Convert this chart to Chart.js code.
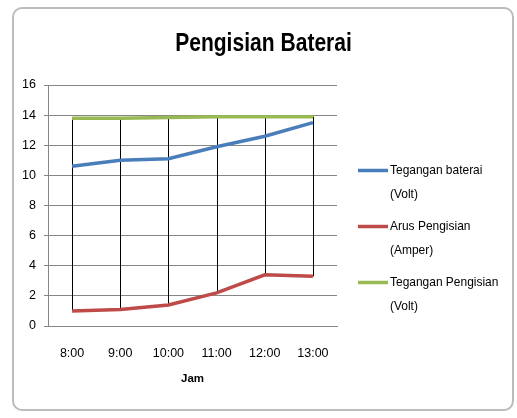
<!DOCTYPE html>
<html>
<head>
<meta charset="utf-8">
<script src="https://cdn.jsdelivr.net/npm/chart.js@4"></script>
<style>
  html, body { margin: 0; padding: 0; background: #fff; }
  #wrap { position: relative; width: 517px; height: 418px; overflow: hidden; }
  #frame {
    position: absolute; left: 12px; top: 7px; width: 498px; height: 400px;
    border: 2px solid #bcbcbc; border-radius: 10px; background: #fff;
  }
  #grafik { position: absolute; left: 0; top: 0; }
</style>
</head>
<body>
<div id="wrap">
  <div id="frame"></div>
  <canvas id="grafik" width="517" height="418"></canvas>
</div>
<script>
// === Data ===
const judul = "Pengisian Baterai";
const jam = ["8:00", "9:00", "10:00", "11:00", "12:00", "13:00"];
const teganganBaterai = [10.6, 11.0, 11.1, 11.9, 12.6, 13.5];
const arusPengisian = [1.0, 1.1, 1.4, 2.2, 3.4, 3.3];
const teganganPengisian = [13.8, 13.8, 13.85, 13.9, 13.9, 13.9];
const labelSeri = [
  ["Tegangan baterai", "(Volt)"],
  ["Arus Pengisian", "(Amper)"],
  ["Tegangan Pengisian", "(Volt)"],
];
const warna = ["#4a7ebb", "#be4b48", "#98b954"];

const fontBiasa = "'Liberation Sans', Arial, sans-serif";

// === Garis high-low (hitam, dari nilai tertinggi ke terendah) ===
const garisHighLow = {
  id: "garisHighLow",
  beforeDatasetsDraw(chart) {
    const { ctx, scales: { x, y } } = chart;
    ctx.save();
    ctx.strokeStyle = "#000";
    ctx.lineWidth = 1;
    jam.forEach((_, i) => {
      const nilai = chart.data.datasets.map(d => d.data[i]);
      const px = Math.round(x.getPixelForValue(i)) + 0.5;
      ctx.beginPath();
      ctx.moveTo(px, y.getPixelForValue(Math.max(...nilai)));
      ctx.lineTo(px, y.getPixelForValue(Math.min(...nilai)));
      ctx.stroke();
    });
    ctx.restore();
  },
};

// === Judul + legenda digambar manual ===
const judulDanLegenda = {
  id: "judulDanLegenda",
  afterDraw(chart) {
    const { ctx, chartArea } = chart;
    ctx.save();
    ctx.fillStyle = "#000";
    ctx.textAlign = "center";
    ctx.textBaseline = "alphabetic";
    ctx.font = "bold 26px " + fontBiasa;
    // dipersempit supaya mirip Calibri
    ctx.translate(263.5, 51);
    ctx.scale(0.81, 1);
    ctx.fillText(judul, 0, 0);
    ctx.restore();

    // legenda
    ctx.save();
    const x0 = chartArea.right + 21;
    let y0 = 170.5;
    ctx.textAlign = "left";
    ctx.textBaseline = "middle";
    ctx.font = "13px " + fontBiasa;
    chart.data.datasets.forEach((ds, i) => {
      ctx.strokeStyle = ds.borderColor;
      ctx.lineWidth = 3.5;
      ctx.beginPath();
      ctx.moveTo(x0, y0);
      ctx.lineTo(x0 + 30, y0);
      ctx.stroke();
      ctx.fillStyle = "#000";
      labelSeri[i].forEach((baris, j) => {
        ctx.save();
        ctx.translate(x0 + 32, y0 + j * 23.5);
        ctx.scale(0.92, 1);
        ctx.fillText(baris, 0, 0);
        ctx.restore();
      });
      y0 += 56;
    });
    ctx.restore();
  },
};

new Chart(document.getElementById("grafik"), {
  type: "line",
  data: {
    labels: jam,
    datasets: [teganganBaterai, arusPengisian, teganganPengisian].map((data, i) => ({
      label: labelSeri[i].join(" "),
      data,
      borderColor: warna[i],
      backgroundColor: warna[i],
      borderWidth: 3.5,
      pointRadius: 0,
      tension: 0,
      fill: false,
    })),
  },
  options: {
    responsive: false,
    animation: false,
    layout: { padding: { top: 85, right: 180, bottom: 0, left: 0 } },
    plugins: {
      legend: { display: false },
      title: { display: false },
      tooltip: { enabled: false },
    },
    scales: {
      x: {
        offset: true,
        grid: { display: false },
        border: { color: "#868686", width: 1 },
        ticks: { color: "#000", padding: 12, font: { family: fontBiasa, size: 12.5 } },
        title: {
          display: true,
          text: "Jam",
          color: "#000",
          font: { family: fontBiasa, size: 11.5, weight: "bold" },
          padding: { top: 0, bottom: 32 },
        },
        afterFit: s => { s.height = 92; },
      },
      y: {
        min: 0,
        max: 16,
        ticks: { stepSize: 2, color: "#000", padding: 8, font: { family: fontBiasa, size: 12.5 } },
        grid: { color: "#868686", lineWidth: 1, tickLength: 4 },
        border: { color: "#868686", width: 1 },
        afterFit: s => { s.width = 48; },
      },
    },
  },
  plugins: [garisHighLow, judulDanLegenda],
});
</script>
</body>
</html>
